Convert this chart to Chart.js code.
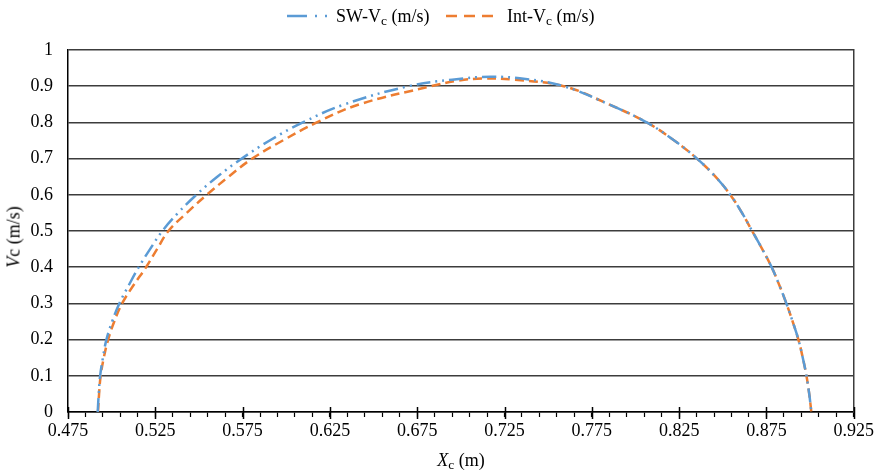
<!DOCTYPE html>
<html>
<head>
<meta charset="utf-8">
<script src="https://cdn.jsdelivr.net/npm/chart.js@4/dist/chart.umd.min.js"></script>
<style>
    body { margin: 0; background: #fff; }
    #wrap { position: relative; width: 877px; height: 471px; font-family: "Liberation Serif", "Times New Roman", serif; color: #000; }
    #chart { position: absolute; left: 0; top: 0; }
    .legend-item { position: absolute; top: 5px; height: 22px; display: flex; align-items: center; font-size: 18px; white-space: nowrap; }
    .legend-item svg { margin-right: 7px; }
    .ytitle { position: absolute; left: 14px; top: 237px; transform: translate(-50%, -50%) rotate(-90deg); font-size: 18px; white-space: nowrap; }
    .xtitle { position: absolute; left: 461px; top: 460px; transform: translate(-50%, -50%); font-size: 18px; white-space: nowrap; }
    sub { font-size: 75%; vertical-align: -3px; line-height: 0; }
</style>
</head>
<body>
<div id="wrap">
    <canvas id="chart" width="877" height="471"></canvas>
    <div class="legend-item" id="leg0" style="left:287px"></div>
    <div class="legend-item" id="leg1" style="left:446px"></div>
    <div class="ytitle"><i>V</i>c (m/s)</div>
    <div class="xtitle"><i>X</i><sub>c</sub> (m)</div>
</div>
<script>
// SW-Vc (blue)
const xSW = [0.4920, 0.4926, 0.4934, 0.4950, 0.4970, 0.5003, 0.5044, 0.5098, 0.5155, 0.5220,
             0.5290, 0.5380, 0.5485, 0.5605, 0.5745, 0.5905, 0.6095, 0.6335, 0.6700, 0.6950,
             0.7170, 0.7370, 0.7589, 0.7847, 0.8064, 0.8222, 0.8352, 0.8458, 0.8543, 0.8610,
             0.8668, 0.8726, 0.8780, 0.8824, 0.8864, 0.8900, 0.8933, 0.8958, 0.8979, 0.8995, 0.9007];
const vSW = [0, 0.05, 0.1, 0.15, 0.2, 0.25, 0.3, 0.35, 0.4, 0.45,
             0.5, 0.55, 0.6, 0.65, 0.7, 0.75, 0.8, 0.85, 0.9, 0.918,
             0.926, 0.92, 0.9, 0.85, 0.8, 0.75, 0.7, 0.65, 0.6, 0.55,
             0.5, 0.45, 0.4, 0.35, 0.3, 0.25, 0.2, 0.15, 0.1, 0.05, 0];

// Int-Vc (orange)
const xInt = [0.4922, 0.4928, 0.4937, 0.4955, 0.4980, 0.5015, 0.5060, 0.5125, 0.5197, 0.5260,
              0.5325, 0.5430, 0.5545, 0.5670, 0.5805, 0.5980, 0.6175, 0.6420, 0.6830, 0.6980,
              0.7120, 0.7300, 0.7589, 0.7847, 0.8064, 0.8222, 0.8352, 0.8458, 0.8543, 0.8610,
              0.8668, 0.8726, 0.8780, 0.8824, 0.8864, 0.8900, 0.8933, 0.8958, 0.8979, 0.8995, 0.9007];
const vInt = [0, 0.05, 0.1, 0.15, 0.2, 0.25, 0.3, 0.35, 0.4, 0.45,
              0.5, 0.55, 0.6, 0.65, 0.7, 0.75, 0.8, 0.85, 0.9, 0.915,
              0.921, 0.918, 0.9, 0.85, 0.8, 0.75, 0.7, 0.65, 0.6, 0.55,
              0.5, 0.45, 0.4, 0.35, 0.3, 0.25, 0.2, 0.15, 0.1, 0.05, 0];

const xMajorTicks = [0.475, 0.525, 0.575, 0.625, 0.675, 0.725, 0.775, 0.825, 0.875, 0.925];
const xMinorStep = 0.01;
const yTicks = [0, 0.1, 0.2, 0.3, 0.4, 0.5, 0.6, 0.7, 0.8, 0.9, 1];

const seriesNames = ['SW-V', 'Int-V'];
const seriesColors = ['#5B9BD5', '#ED7D31'];

const toPoints = (xs, vs) => xs.map((x, i) => ({ x: x, y: vs[i] }));

// majors plus the minor marks in between
const xAllTicks = [];
xMajorTicks.forEach((m, i) => {
    xAllTicks.push(m);
    if (i < xMajorTicks.length - 1) {
        for (let k = 1; k < 5; k++) xAllTicks.push(+(m + k * xMinorStep).toFixed(3));
    }
});
const isMajor = v => xMajorTicks.some(m => Math.abs(m - v) < 1e-6);

// longer major tick marks that cross the x axis
const majorTickPlugin = {
    id: 'majorTicks',
    afterDraw(chart) {
        const ctx = chart.ctx;
        const xs = chart.scales.x;
        const y0 = chart.chartArea.bottom;
        ctx.save();
        ctx.strokeStyle = '#000';
        ctx.lineWidth = 1.5;
        xMajorTicks.forEach(v => {
            const px = Math.round(xs.getPixelForValue(v)) + 0.5;
            ctx.beginPath();
            ctx.moveTo(px, y0 - 5);
            ctx.lineTo(px, y0 + 7);
            ctx.stroke();
        });
        ctx.restore();
    }
};

const font = { family: '"Liberation Serif", "Times New Roman", serif', size: 18 };

const chart = new Chart(document.getElementById('chart'), {
    type: 'scatter',
    data: {
        datasets: [
            {
                label: seriesNames[0],
                data: toPoints(xSW, vSW),
                showLine: true,
                borderColor: seriesColors[0],
                backgroundColor: seriesColors[0],
                borderWidth: 2.5,
                borderDash: [14, 5, 2, 5, 2, 5],
                pointRadius: 0,
                tension: 0.4
            },
            {
                label: seriesNames[1],
                data: toPoints(xInt, vInt),
                showLine: true,
                borderColor: seriesColors[1],
                backgroundColor: seriesColors[1],
                borderWidth: 2.5,
                borderDash: [9, 5],
                pointRadius: 0,
                tension: 0.4
            }
        ]
    },
    options: {
        responsive: false,
        animation: false,
        layout: { padding: { top: 50, right: 22, left: 0, bottom: 0 } },
        plugins: {
            legend: { display: false },
            tooltip: { enabled: false }
        },
        scales: {
            x: {
                type: 'linear',
                min: 0.475,
                max: 0.925,
                afterBuildTicks: (scale) => { scale.ticks = xAllTicks.map(v => ({ value: v })); },
                afterFit: (scale) => { scale.height = 59; },
                ticks: {
                    autoSkip: false,
                    maxRotation: 0,
                    padding: 3,
                    color: '#000',
                    font: font,
                    callback: (value) => isMajor(value) ? value.toFixed(3) : ''
                },
                grid: {
                    drawOnChartArea: false,
                    drawTicks: true,
                    tickLength: 5,
                    tickColor: '#000',
                    tickWidth: 1.2
                },
                border: { display: true, color: '#000', width: 1.5 }
            },
            y: {
                min: 0,
                max: 1,
                afterBuildTicks: (scale) => { scale.ticks = yTicks.map(v => ({ value: v })); },
                afterFit: (scale) => { scale.width = 68; },
                ticks: {
                    padding: 15,
                    color: '#000',
                    font: font,
                    callback: (value) => String(value)
                },
                grid: {
                    color: '#3c3c3c',
                    lineWidth: 1.5,
                    drawTicks: false
                },
                border: { display: true, color: '#000', width: 1.5 }
            },
            yRight: {
                position: 'right',
                min: 0,
                max: 1,
                display: true,
                afterFit: (scale) => { scale.width = 0; },
                ticks: { display: false },
                grid: { display: false },
                border: { display: true, color: '#3c3c3c', width: 1.5 }
            }
        }
    },
    plugins: [majorTickPlugin]
});

// legend built from the dataset styles
function buildLegend(id, ds, len, dash) {
    const el = document.getElementById(id);
    const svg = '<svg width="' + len + '" height="6"><line x1="0" y1="3" x2="' + len + '" y2="3" stroke="' +
        ds.borderColor + '" stroke-width="2.5" stroke-dasharray="' + dash.join(' ') + '"/></svg>';
    el.innerHTML = svg + '<span>' + ds.label + '<sub>c</sub> (m/s)</span>';
}
buildLegend('leg0', chart.data.datasets[0], 42, [20, 8, 2, 8, 2, 8]);
buildLegend('leg1', chart.data.datasets[1], 54, [11, 7]);
</script>
</body>
</html>
